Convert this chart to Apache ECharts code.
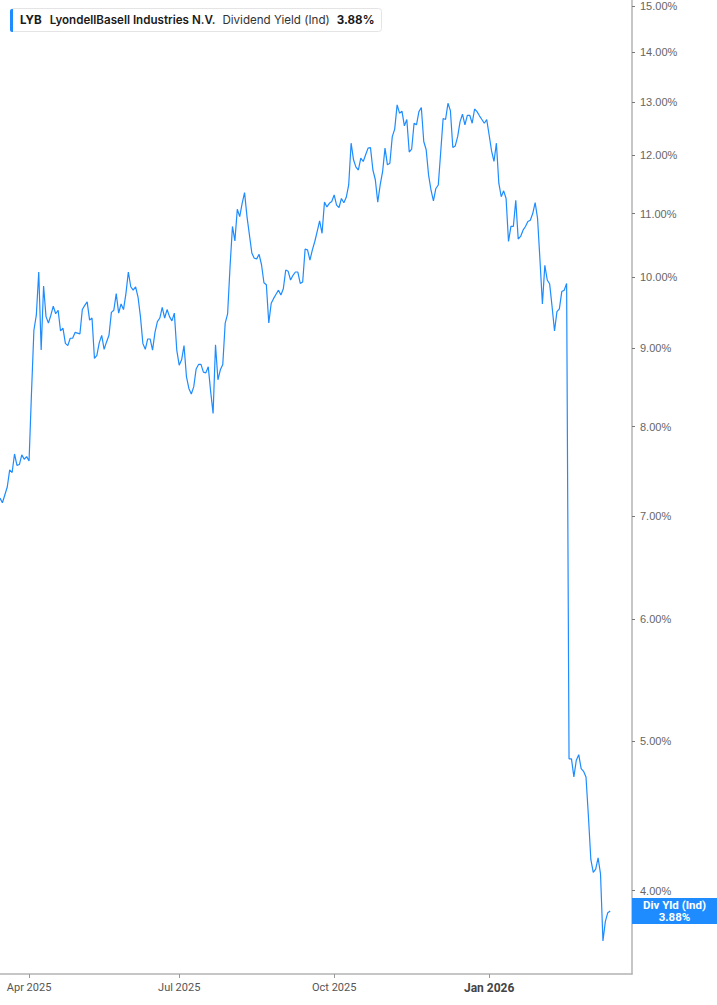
<!DOCTYPE html>
<html>
<head>
<meta charset="utf-8">
<script src="https://cdn.jsdelivr.net/npm/echarts@6/dist/echarts.min.js"></script>
<style>
html,body{margin:0;padding:0;background:#fff;}
#chart{width:717px;height:1005px;}
</style>
</head>
<body>
<div id="chart"></div>
<script>
// ---- data ----
const firstDate = '2025-03-14';
const lastAxisDate = '2026-03-30';
const marketHolidays = ['2025-04-18','2025-05-26','2025-06-19','2025-07-04','2025-09-01',
  '2025-11-27','2025-12-25','2026-01-01','2026-01-19','2026-02-16'];

const xTickDates  = ['2025-04-01','2025-07-01','2025-10-01','2026-01-02'];
const xTickLabels = ['Apr 2025','Jul 2025','Oct 2025','Jan 2026'];
const yTickValues = [4,5,6,7,8,9,10,11,12,13,14,15];

const divYield = [
  7.19,7.14,null,7.31,7.50,7.47,7.68,7.55,7.56,7.67,7.62,7.65,7.60,8.41,9.24,9.45,10.08,8.97,9.87,9.43,
  9.34,9.45,9.58,9.47,9.52,9.23,9.27,9.06,9.03,9.13,9.13,9.21,9.20,9.19,9.53,9.59,9.64,9.38,9.41,8.86,
  8.90,9.07,9.17,8.98,9.08,9.17,9.49,9.52,9.76,9.48,9.61,9.53,9.76,10.08,9.86,9.81,9.86,9.71,9.43,9.06,
  8.98,9.12,9.12,8.97,9.21,9.36,9.41,9.56,9.41,9.53,9.43,9.37,9.48,8.97,8.77,8.84,9.03,8.62,8.47,8.40,
  8.49,8.72,8.78,8.78,8.68,8.67,8.75,8.43,8.16,9.04,8.58,8.71,8.78,9.34,9.47,10.16,10.79,10.56,11.07,10.95,
  11.17,11.35,10.95,null,10.37,10.29,10.28,10.35,10.19,9.92,9.89,9.34,9.62,9.69,9.75,9.81,9.74,9.83,10.11,10.09,
  9.96,10.03,10.08,10.08,9.91,9.93,10.43,10.42,10.26,10.42,10.55,10.71,10.88,10.68,11.19,11.11,11.17,11.20,11.31,11.14,
  11.10,11.25,11.18,11.27,11.48,12.22,11.92,11.79,11.74,11.95,11.89,12.01,12.13,12.14,11.74,11.57,11.19,11.48,11.71,12.13,
  11.83,11.86,12.34,12.48,12.94,12.78,12.82,12.54,12.66,12.06,12.11,12.59,12.56,12.81,12.89,12.25,12.10,11.65,11.39,11.21,
  11.42,11.48,12.06,12.68,12.66,12.97,12.83,12.14,12.17,12.34,12.62,12.76,12.56,12.74,12.74,12.59,12.86,12.81,12.73,12.66,
  12.59,12.66,12.37,12.08,11.89,12.22,11.51,11.28,11.38,11.25,10.55,10.79,10.79,11.22,10.59,10.63,10.73,10.79,10.87,10.89,
  11.00,11.18,10.92,10.26,9.61,10.18,9.96,9.90,9.57,9.23,9.50,9.54,9.79,9.81,9.91,4.87,4.87,4.74,4.86,4.90,
  4.80,4.78,4.74,4.47,4.19,4.11,4.13,4.20,4.10,3.71,3.82,3.87,3.88
];
const lastYield = divYield[divYield.length - 1];

// trading-day categories
function buildTradingDays(from, to) {
  const out = [];
  const [fy, fm, fd] = from.split('-').map(Number);
  const [ty, tm, td] = to.split('-').map(Number);
  let t = Date.UTC(fy, fm - 1, fd);
  const end = Date.UTC(ty, tm - 1, td);
  while (t <= end) {
    const d = new Date(t);
    const wd = d.getUTCDay();
    const s = d.toISOString().slice(0, 10);
    if (wd !== 0 && wd !== 6 && marketHolidays.indexOf(s) < 0) out.push(s);
    t += 86400000;
  }
  return out;
}
const tradingDates = buildTradingDays(firstDate, lastAxisDate);

const BLUE = '#1e8cff';
const chart = echarts.init(document.getElementById('chart'), null, { renderer: 'svg' });

chart.setOption({
  animation: false,
  backgroundColor: '#fff',
  title: {
    left: 10, top: 8,
    padding: [6, 7, 6, 10],
    borderColor: '#e4e4e4', borderWidth: 1, borderRadius: 3,
    backgroundColor: '#fff',
    text: '{a|LYB}{b|LyondellBasell Industries N.V.}{c|Dividend Yield (Ind)}{d|' + lastYield.toFixed(2) + '%}',
    textStyle: {
      rich: {
        a: { fontFamily: 'Inter', fontSize: 11.6, fontWeight: 700, color: '#1a1a1a', padding: [0, 8, 0, 0] },
        b: { fontFamily: 'Inter', fontSize: 11.6, fontWeight: 600, color: '#1a1a1a', padding: [0, 7, 0, 0] },
        c: { fontFamily: 'Inter', fontSize: 11.6, fontWeight: 400, color: '#333', padding: [0, 7, 0, 0] },
        d: { fontFamily: 'Inter', fontSize: 11.6, fontWeight: 700, color: '#1a1a1a' }
      }
    }
  },
  graphic: [{
    type: 'rect', left: 10, top: 9, z: 100,
    shape: { width: 3, height: 23, r: [2, 0, 0, 2] },
    style: { fill: BLUE }
  }],
  grid: { left: 0, right: 85, top: 0, bottom: 31 },
  xAxis: {
    type: 'category',
    data: tradingDates,
    boundaryGap: false,
    axisLine: { show: true, lineStyle: { color: '#b3b3b3', width: 1.5 } },
    axisTick: {
      show: true, length: 4,
      interval: (i, v) => xTickDates.indexOf(v) >= 0,
      lineStyle: { color: '#999' }
    },
    axisLabel: {
      interval: (i, v) => xTickDates.indexOf(v) >= 0,
      margin: 8,
      fontFamily: 'Roboto', fontSize: 11, color: '#555',
      formatter: (v) => {
        const k = xTickDates.indexOf(v);
        if (k < 0) return '';
        const lab = xTickLabels[k];
        return v.slice(5) === '01-02' ? '{b|' + lab + '}' : lab;
      },
      rich: { b: { fontFamily: 'Roboto', fontSize: 12, fontWeight: 'bold', color: '#444' } }
    },
    splitLine: { show: false }
  },
  yAxis: {
    type: 'log',
    logBase: 10,
    position: 'right',
    min: 3.531,
    max: 15.135,
    axisLine: { show: true, lineStyle: { color: '#b3b3b3', width: 1.5 } },
    axisTick: { show: true, length: 3, customValues: yTickValues, lineStyle: { color: '#777' } },
    axisLabel: {
      customValues: yTickValues,
      margin: 8,
      fontFamily: 'Liberation Sans', fontSize: 11, color: '#666',
      formatter: (v) => Number(v).toFixed(2) + '%'
    },
    splitLine: { show: false },
    minorTick: { show: false }
  },
  series: [{
    type: 'line',
    data: divYield,
    symbol: 'none',
    showSymbol: false,
    connectNulls: true,
    lineStyle: { color: BLUE, width: 1.2 },
    itemStyle: { color: BLUE },
    markLine: {
      silent: true,
      symbol: ['none', 'none'],
      lineStyle: { color: 'rgba(0,0,0,0)', width: 1, type: 'solid' },
      label: {
        show: true, position: 'end', distance: 0,
        opacity: 1,
        formatter: '{t|Div Yld (Ind)}\n{t|' + lastYield.toFixed(2) + '%}',
        backgroundColor: BLUE,
        padding: [1, 0, 1, 0],
        rich: { t: { width: 85, align: 'center', color: '#fff', fontFamily: 'Roboto', fontWeight: 'bold', fontSize: 11.5, lineHeight: 12 } }
      },
      data: [{ yAxis: lastYield }]
    }
  }]
});
</script>
</body>
</html>
